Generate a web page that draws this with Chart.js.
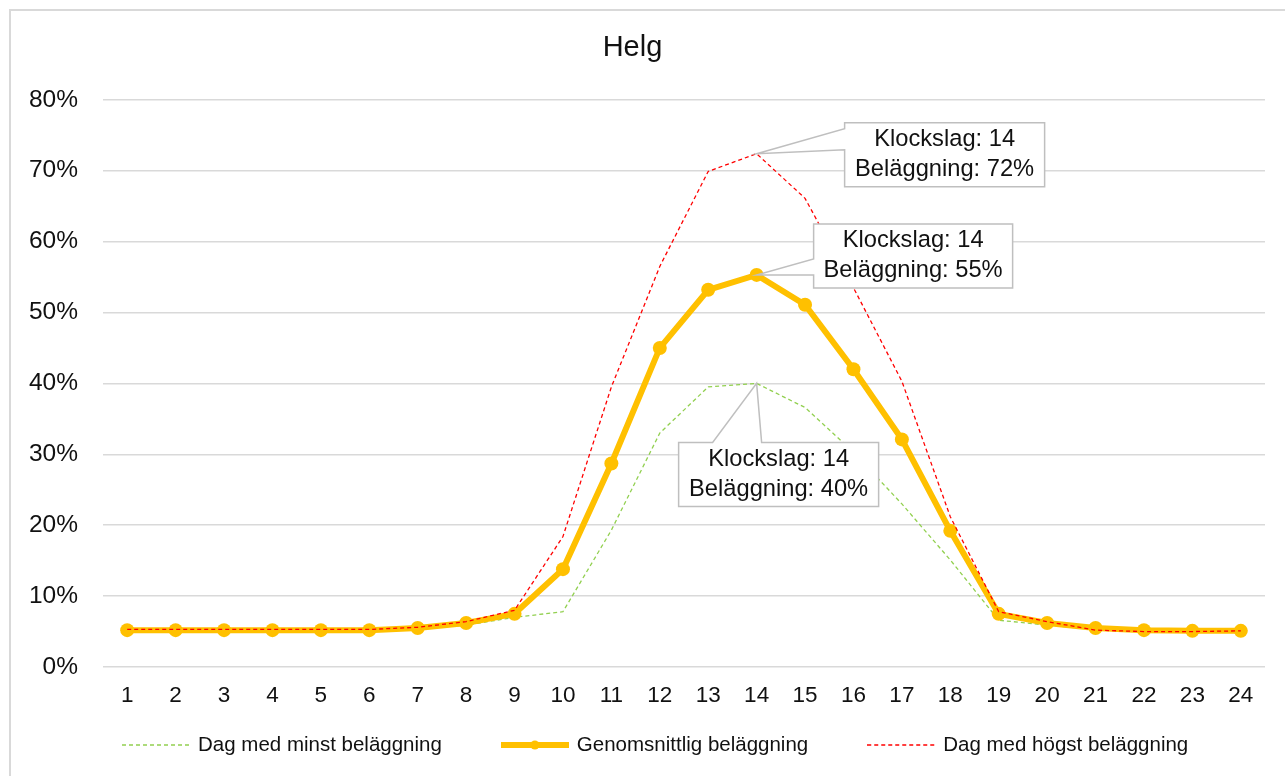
<!DOCTYPE html>
<html lang="sv">
<head>
<meta charset="utf-8">
<title>Helg</title>
<script src="https://cdn.jsdelivr.net/npm/chart.js@4.4.1/dist/chart.umd.min.js"></script>
<style>
  html, body { margin: 0; padding: 0; background: #fff; overflow: hidden; }
  .frame { position: absolute; left: 9px; top: 9px; width: 1300px; height: 800px; border: 2px solid #d9d9d9; }
  .wrap { position: absolute; left: 0; top: 0; width: 1285px; height: 776px; }
</style>
</head>
<body>
<div class="frame"></div>
<div class="wrap"><canvas id="helgChart" width="1285" height="776"></canvas></div>
<script>
// Beläggning per klockslag, helg (procent)
const hours = ['1', '2', '3', '4', '5', '6', '7', '8', '9', '10', '11', '12',
               '13', '14', '15', '16', '17', '18', '19', '20', '21', '22', '23', '24'];
const minDay = [5.2, 5.2, 5.2, 5.2, 5.2, 5.2, 5.4, 5.9, 7.0, 7.8, 19.3, 33.0,
                39.5, 40.0, 36.6, 30.3, 23.0, 15.1, 6.6, 5.9, 5.3, 5.1, 5.0, 5.0];
const avgDay = [5.2, 5.2, 5.2, 5.2, 5.2, 5.2, 5.5, 6.2, 7.5, 13.8, 28.7, 45.0,
                53.2, 55.3, 51.1, 42.0, 32.1, 19.2, 7.5, 6.2, 5.5, 5.2, 5.1, 5.1];
const maxDay = [5.3, 5.3, 5.3, 5.3, 5.3, 5.3, 5.6, 6.4, 8.0, 18.4, 39.5, 56.5,
                69.9, 72.4, 66.1, 53.5, 40.3, 21.2, 7.8, 6.4, 5.2, 5.0, 5.0, 5.1];
const yTicks = [0, 10, 20, 30, 40, 50, 60, 70, 80];

const textColor = '#111';
const gridColor = '#d9d9d9';
const fontFamily = "'Liberation Sans', Arial, sans-serif";
Chart.defaults.font.family = fontFamily;

// small line samples for the legend
function makeIcon(color, width, dash, dot) {
    const c = document.createElement('canvas');
    c.width = 68;
    c.height = 16;
    const g = c.getContext('2d');
    g.strokeStyle = color;
    g.lineWidth = width;
    g.setLineDash(dash);
    g.beginPath();
    g.moveTo(0, 8);
    g.lineTo(68, 8);
    g.stroke();
    if (dot) {
        g.fillStyle = color;
        g.beginPath();
        g.arc(34, 8, dot, 0, Math.PI * 2);
        g.fill();
    }
    return c;
}
const legendIcons = [
    makeIcon('#92D050', 1.3, [4, 3], 0),
    makeIcon('#FFC000', 6, [], 4.5),
    makeIcon('#FF0000', 1.3, [4, 3], 0)
];

// legend row under the x axis
const legendPlugin = {
    id: 'bottomLegend',
    afterDraw(chart) {
        const ctx = chart.ctx;
        const y = 745;
        let x = 122;
        ctx.save();
        ctx.font = '20.5px ' + fontFamily;
        ctx.textBaseline = 'middle';
        ctx.fillStyle = textColor;
        chart.data.datasets.forEach((ds, i) => {
            ctx.drawImage(legendIcons[i], x, y - 8);
            x += legendIcons[i].width + 8;
            ctx.fillText(ds.label, x, y);
            x += ctx.measureText(ds.label).width + 59;
        });
        ctx.restore();
    }
};

// callout boxes at each series peak (offsets from the point)
const callouts = [
    { dx: -78, dy: 59, w: 200, h: 64, side: 'top', a: 34, b: 83 },
    { dx: 57, dy: -51, w: 199, h: 64, side: 'left', a: 35, b: 51 },
    { dx: 88, dy: -31, w: 200, h: 64, side: 'left', a: 6, b: 27 }
];

const calloutPlugin = {
    id: 'peakCallouts',
    afterDatasetsDraw(chart) {
        const ctx = chart.ctx;
        chart.data.datasets.forEach((ds, i) => {
            const vals = ds.data;
            const peak = vals.indexOf(Math.max(...vals));
            const pt = chart.getDatasetMeta(i).data[peak];
            const c = callouts[i];
            const L = pt.x + c.dx, T = pt.y + c.dy, R = L + c.w, B = T + c.h;
            ctx.save();
            ctx.beginPath();
            if (c.side === 'left') {
                ctx.moveTo(L, T);
                ctx.lineTo(R, T);
                ctx.lineTo(R, B);
                ctx.lineTo(L, B);
                ctx.lineTo(L, T + c.b);
                ctx.lineTo(pt.x, pt.y);
                ctx.lineTo(L, T + c.a);
            } else {
                ctx.moveTo(L, T);
                ctx.lineTo(L + c.a, T);
                ctx.lineTo(pt.x, pt.y);
                ctx.lineTo(L + c.b, T);
                ctx.lineTo(R, T);
                ctx.lineTo(R, B);
                ctx.lineTo(L, B);
            }
            ctx.closePath();
            ctx.fillStyle = '#fff';
            ctx.fill();
            ctx.strokeStyle = '#bfbfbf';
            ctx.lineWidth = 1.5;
            ctx.stroke();
            ctx.fillStyle = textColor;
            ctx.font = '23.7px ' + fontFamily;
            ctx.textAlign = 'center';
            ctx.textBaseline = 'middle';
            const cx = (L + R) / 2, cy = (T + B) / 2;
            ctx.fillText('Klockslag: ' + chart.data.labels[peak], cx, cy - 15);
            ctx.fillText('Beläggning: ' + Math.round(vals[peak]) + '%', cx, cy + 15);
            ctx.restore();
        });
    }
};

const ctx = document.getElementById('helgChart').getContext('2d');
new Chart(ctx, {
    type: 'line',
    data: {
        labels: hours,
        datasets: [{
            label: 'Dag med minst beläggning',
            data: minDay,
            borderColor: '#92D050',
            borderWidth: 1.3,
            borderDash: [4, 3],
            pointRadius: 0,
            order: 2
        }, {
            label: 'Genomsnittlig beläggning',
            data: avgDay,
            borderColor: '#FFC000',
            backgroundColor: '#FFC000',
            borderWidth: 6,
            pointRadius: 7,
            pointBorderWidth: 0,
            pointBackgroundColor: '#FFC000',
            order: 1
        }, {
            label: 'Dag med högst beläggning',
            data: maxDay,
            borderColor: '#FF0000',
            borderWidth: 1.3,
            borderDash: [4, 3],
            pointRadius: 0,
            order: 0
        }]
    },
    options: {
        responsive: false,
        animation: false,
        layout: {
            padding: { top: 31, right: 20, bottom: 59, left: 0 }
        },
        plugins: {
            title: {
                display: true,
                text: 'Helg',
                color: textColor,
                font: { size: 29, weight: 'normal' },
                padding: { top: 0, bottom: 34 }
            },
            legend: { display: false },
            tooltip: { enabled: false }
        },
        scales: {
            x: {
                offset: true,
                grid: { display: false, drawTicks: false },
                border: { display: false },
                ticks: {
                    padding: 15,
                    color: textColor,
                    font: { size: 22.5 },
                    maxRotation: 0,
                    autoSkip: false
                },
                afterFit: function(scale) {
                    scale.height = 50;
                }
            },
            y: {
                min: 0,
                max: 80,
                grid: { color: gridColor, lineWidth: 1.5, drawTicks: false },
                border: { display: false },
                ticks: {
                    padding: 25,
                    color: textColor,
                    font: { size: 24.5 },
                    callback: function(value) {
                        return value + '%';
                    }
                },
                afterBuildTicks: function(scale) {
                    scale.ticks = yTicks.map(v => ({ value: v }));
                },
                afterFit: function(scale) {
                    scale.width = 103;
                }
            }
        }
    },
    plugins: [calloutPlugin, legendPlugin]
});
</script>
</body>
</html>
